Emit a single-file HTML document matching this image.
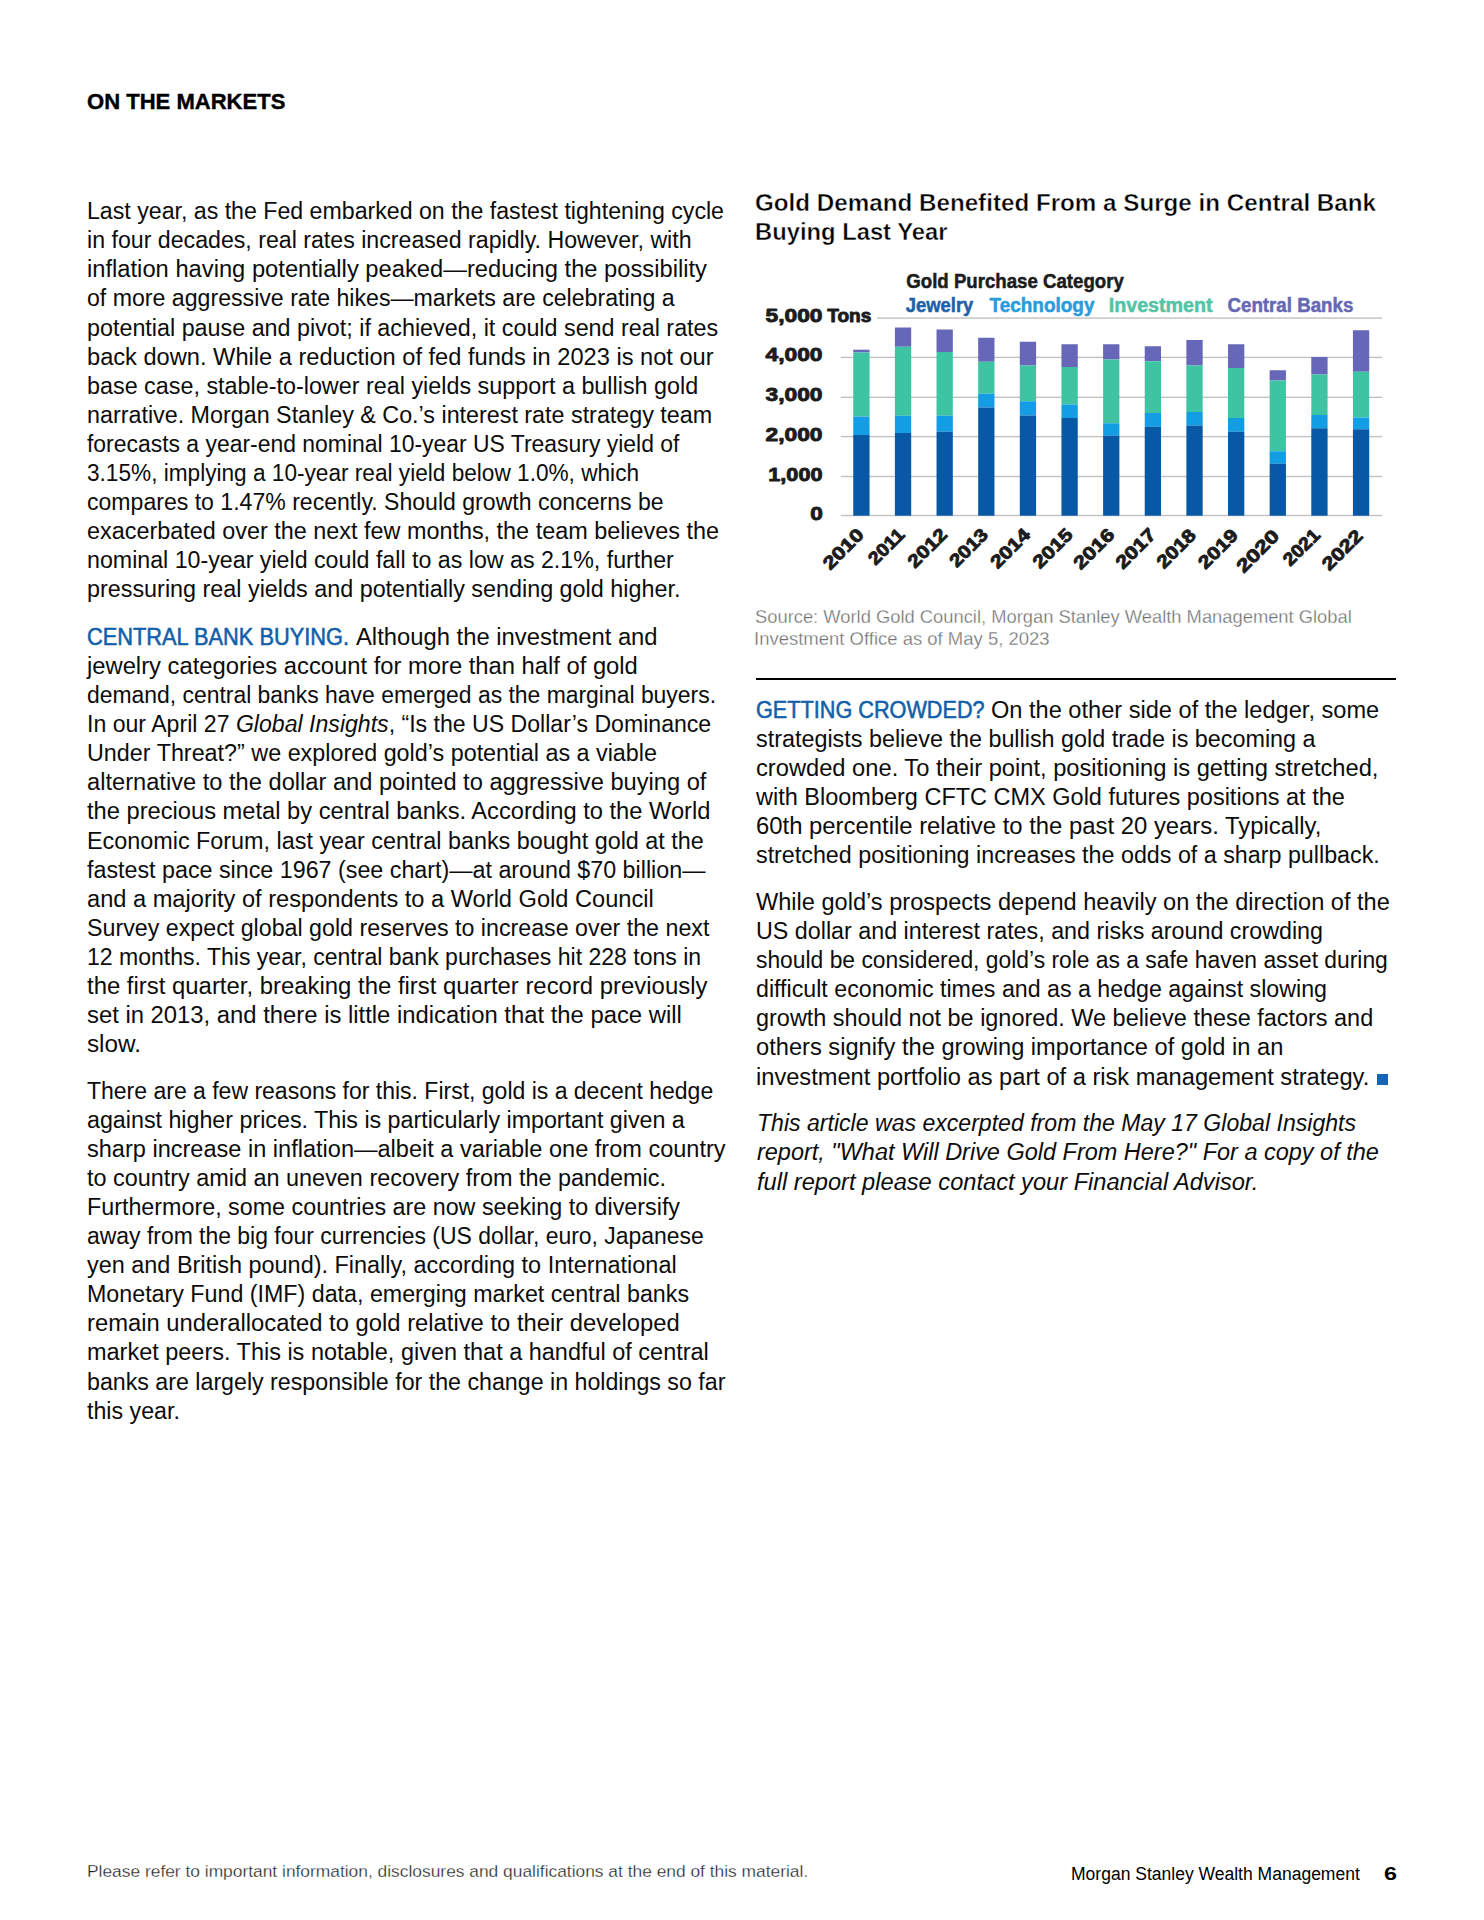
<!DOCTYPE html>
<html lang="en"><head><meta charset="utf-8"><title>On the Markets</title>
<style>
*{margin:0;padding:0;box-sizing:border-box}
h1,h2{font-size:inherit;font-weight:inherit}
html,body{width:1484px;height:1920px;background:#fff;overflow:hidden}
body{position:relative;font-family:"Liberation Sans",sans-serif;color:#111}
.l{position:absolute;white-space:nowrap;line-height:30px;height:30px;transform-origin:0 0;display:block}
.b{font-size:23px;color:#0c0c0c}
.it{font-style:italic}
.h{color:#1260aa;-webkit-text-stroke:0.55px #1260aa}
.hd{font-size:22.9px;font-weight:bold;color:#000;-webkit-text-stroke:0.4px #000}
.ct{font-size:24px;color:#000;font-weight:bold;-webkit-text-stroke:0.45px #fff}
.src{font-size:18.6px;color:#707070;-webkit-text-stroke:0.3px #fff}
.ft{font-size:17.2px;color:#1e1e1e;-webkit-text-stroke:0.28px #fff}
.fr{font-size:17.6px;color:#000}
.pg{font-size:18.4px;font-weight:bold;color:#000}
.rule{position:absolute;left:756px;top:678px;width:640px;height:2px;background:#000}
.sq{position:absolute;left:1377px;top:1074px;width:11px;height:11px;background:#1565b4}
#chart{position:absolute;left:742px;top:260px}
</style></head>
<body>
<header>
<h1><span class="l hd" id="l59" style="left:86.79px;top:86px;transform:scaleX(0.9630)">ON THE MARKETS</span>
</h1>
</header>
<main>
<section class="col">
<p>
<span class="l b" id="l0" style="left:87.20px;top:196px;transform:scaleX(1.0065)">Last year, as the Fed embarked on the fastest tightening cycle</span>
<span class="l b" id="l1" style="left:87.20px;top:225px;transform:scaleX(1.0069)">in four decades, real rates increased rapidly. However, with</span>
<span class="l b" id="l2" style="left:87.20px;top:254px;transform:scaleX(1.0317)">inflation having potentially peaked—reducing the possibility</span>
<span class="l b" id="l3" style="left:87.20px;top:283px;transform:scaleX(1.0058)">of more aggressive rate hikes—markets are celebrating a</span>
<span class="l b" id="l4" style="left:87.20px;top:313px;transform:scaleX(1.0137)">potential pause and pivot; if achieved, it could send real rates</span>
<span class="l b" id="l5" style="left:87.20px;top:342px;transform:scaleX(1.0274)">back down. While a reduction of fed funds in 2023 is not our</span>
<span class="l b" id="l6" style="left:87.20px;top:371px;transform:scaleX(1.0150)">base case, stable-to-lower real yields support a bullish gold</span>
<span class="l b" id="l7" style="left:87.20px;top:400px;transform:scaleX(1.0132)">narrative. Morgan Stanley &amp; Co.’s interest rate strategy team</span>
<span class="l b" id="l8" style="left:87.20px;top:429px;transform:scaleX(0.9965)">forecasts a year-end nominal 10-year US Treasury yield of</span>
<span class="l b" id="l9" style="left:87.20px;top:458px;transform:scaleX(0.9836)">3.15%, implying a 10-year real yield below 1.0%, which</span>
<span class="l b" id="l10" style="left:87.20px;top:487px;transform:scaleX(1.0030)">compares to 1.47% recently. Should growth concerns be</span>
<span class="l b" id="l11" style="left:87.20px;top:516px;transform:scaleX(1.0171)">exacerbated over the next few months, the team believes the</span>
<span class="l b" id="l12" style="left:87.20px;top:545px;transform:scaleX(1.0088)">nominal 10-year yield could fall to as low as 2.1%, further</span>
<span class="l b" id="l13" style="left:87.20px;top:574px;transform:scaleX(1.0155)">pressuring real yields and potentially sending gold higher.</span>
</p>
<p>
<span class="l b h" id="l14" style="left:87.19px;top:622px;transform:scaleX(0.9477)">CENTRAL BANK BUYING.</span>
<span class="l b" id="l15" style="left:355.60px;top:622px;transform:scaleX(1.0345)">Although the investment and</span>
<span class="l b" id="l16" style="left:87.20px;top:651px;transform:scaleX(1.0332)">jewelry categories account for more than half of gold</span>
<span class="l b" id="l17" style="left:87.20px;top:680px;transform:scaleX(0.9959)">demand, central banks have emerged as the marginal buyers.</span>
<span class="l b" id="l18" style="left:87.20px;top:709px;transform:scaleX(1.0040)">In our April 27 <i>Global Insights</i>, “Is the US Dollar’s Dominance</span>
<span class="l b" id="l19" style="left:87.20px;top:738px;transform:scaleX(1.0147)">Under Threat?” we explored gold’s potential as a viable</span>
<span class="l b" id="l20" style="left:87.20px;top:767px;transform:scaleX(1.0285)">alternative to the dollar and pointed to aggressive buying of</span>
<span class="l b" id="l21" style="left:87.20px;top:796px;transform:scaleX(1.0295)">the precious metal by central banks. According to the World</span>
<span class="l b" id="l22" style="left:87.20px;top:826px;transform:scaleX(1.0157)">Economic Forum, last year central banks bought gold at the</span>
<span class="l b" id="l23" style="left:87.20px;top:855px;transform:scaleX(1.0119)">fastest pace since 1967 (see chart)—at around $70 billion—</span>
<span class="l b" id="l24" style="left:87.20px;top:884px;transform:scaleX(1.0271)">and a majority of respondents to a World Gold Council</span>
<span class="l b" id="l25" style="left:87.20px;top:913px;transform:scaleX(1.0100)">Survey expect global gold reserves to increase over the next</span>
<span class="l b" id="l26" style="left:87.20px;top:942px;transform:scaleX(1.0015)">12 months. This year, central bank purchases hit 228 tons in</span>
<span class="l b" id="l27" style="left:87.20px;top:971px;transform:scaleX(1.0392)">the first quarter, breaking the first quarter record previously</span>
<span class="l b" id="l28" style="left:87.20px;top:1000px;transform:scaleX(1.0361)">set in 2013, and there is little indication that the pace will</span>
<span class="l b" id="l29" style="left:87.20px;top:1029px;transform:scaleX(1.0536)">slow.</span>
</p>
<p>
<span class="l b" id="l30" style="left:87.20px;top:1076px;transform:scaleX(0.9996)">There are a few reasons for this. First, gold is a decent hedge</span>
<span class="l b" id="l31" style="left:87.20px;top:1105px;transform:scaleX(1.0107)">against higher prices. This is particularly important given a</span>
<span class="l b" id="l32" style="left:87.20px;top:1134px;transform:scaleX(1.0236)">sharp increase in inflation—albeit a variable one from country</span>
<span class="l b" id="l33" style="left:87.20px;top:1163px;transform:scaleX(1.0178)">to country amid an uneven recovery from the pandemic.</span>
<span class="l b" id="l34" style="left:87.20px;top:1192px;transform:scaleX(1.0129)">Furthermore, some countries are now seeking to diversify</span>
<span class="l b" id="l35" style="left:87.20px;top:1221px;transform:scaleX(0.9968)">away from the big four currencies (US dollar, euro, Japanese</span>
<span class="l b" id="l36" style="left:87.20px;top:1250px;transform:scaleX(1.0188)">yen and British pound). Finally, according to International</span>
<span class="l b" id="l37" style="left:87.20px;top:1279px;transform:scaleX(1.0106)">Monetary Fund (IMF) data, emerging market central banks</span>
<span class="l b" id="l38" style="left:87.20px;top:1308px;transform:scaleX(1.0346)">remain underallocated to gold relative to their developed</span>
<span class="l b" id="l39" style="left:87.20px;top:1337px;transform:scaleX(1.0203)">market peers. This is notable, given that a handful of central</span>
<span class="l b" id="l40" style="left:87.20px;top:1367px;transform:scaleX(1.0087)">banks are largely responsible for the change in holdings so far</span>
<span class="l b" id="l41" style="left:87.20px;top:1396px;transform:scaleX(1.0087)">this year.</span>
</p>
</section>
<section class="col">
<figure>
<h2><span class="l ct" id="l60" style="left:755.00px;top:188px;transform:scaleX(1.0079)">Gold Demand Benefited From a Surge in Central Bank</span>
<span class="l ct" id="l61" style="left:754.96px;top:217px;transform:scaleX(0.9904)">Buying Last Year</span>
</h2>
<svg id="chart" width="690" height="330" viewBox="0 0 690 330" font-family="Liberation Sans, sans-serif" font-weight="bold" stroke-linejoin="round">
<rect x="98.8" y="254.80" width="541.2" height="1.4" fill="#c2c2c2"/>
<rect x="98.8" y="215.80" width="541.2" height="1.4" fill="#c2c2c2"/>
<rect x="98.8" y="175.90" width="541.2" height="1.4" fill="#c2c2c2"/>
<rect x="98.8" y="136.60" width="541.2" height="1.4" fill="#c2c2c2"/>
<rect x="98.8" y="96.70" width="541.2" height="1.4" fill="#c2c2c2"/>
<rect x="135.0" y="57.40" width="505.0" height="1.4" fill="#c2c2c2"/>
<rect x="111.25" y="89.70" width="16.3" height="2.80" fill="#6667b9"/>
<rect x="111.25" y="92.50" width="16.3" height="64.10" fill="#3ec4a3"/>
<rect x="111.25" y="156.60" width="16.3" height="18.40" fill="#139de4"/>
<rect x="111.25" y="175.00" width="16.3" height="80.70" fill="#0759a6"/>
<rect x="152.89" y="67.50" width="16.3" height="19.25" fill="#6667b9"/>
<rect x="152.89" y="86.75" width="16.3" height="69.00" fill="#3ec4a3"/>
<rect x="152.89" y="155.75" width="16.3" height="17.25" fill="#139de4"/>
<rect x="152.89" y="173.00" width="16.3" height="82.70" fill="#0759a6"/>
<rect x="194.53" y="69.50" width="16.3" height="22.50" fill="#6667b9"/>
<rect x="194.53" y="92.00" width="16.3" height="63.75" fill="#3ec4a3"/>
<rect x="194.53" y="155.75" width="16.3" height="16.00" fill="#139de4"/>
<rect x="194.53" y="171.75" width="16.3" height="83.95" fill="#0759a6"/>
<rect x="236.17" y="77.75" width="16.3" height="24.00" fill="#6667b9"/>
<rect x="236.17" y="101.75" width="16.3" height="32.00" fill="#3ec4a3"/>
<rect x="236.17" y="133.75" width="16.3" height="13.75" fill="#139de4"/>
<rect x="236.17" y="147.50" width="16.3" height="108.20" fill="#0759a6"/>
<rect x="277.81" y="81.75" width="16.3" height="23.75" fill="#6667b9"/>
<rect x="277.81" y="105.50" width="16.3" height="35.75" fill="#3ec4a3"/>
<rect x="277.81" y="141.25" width="16.3" height="14.25" fill="#139de4"/>
<rect x="277.81" y="155.50" width="16.3" height="100.20" fill="#0759a6"/>
<rect x="319.45" y="84.25" width="16.3" height="22.75" fill="#6667b9"/>
<rect x="319.45" y="107.00" width="16.3" height="37.50" fill="#3ec4a3"/>
<rect x="319.45" y="144.50" width="16.3" height="13.50" fill="#139de4"/>
<rect x="319.45" y="158.00" width="16.3" height="97.70" fill="#0759a6"/>
<rect x="361.09" y="84.25" width="16.3" height="15.25" fill="#6667b9"/>
<rect x="361.09" y="99.50" width="16.3" height="63.75" fill="#3ec4a3"/>
<rect x="361.09" y="163.25" width="16.3" height="12.50" fill="#139de4"/>
<rect x="361.09" y="175.75" width="16.3" height="79.95" fill="#0759a6"/>
<rect x="402.73" y="86.25" width="16.3" height="15.00" fill="#6667b9"/>
<rect x="402.73" y="101.25" width="16.3" height="51.75" fill="#3ec4a3"/>
<rect x="402.73" y="153.00" width="16.3" height="13.75" fill="#139de4"/>
<rect x="402.73" y="166.75" width="16.3" height="88.95" fill="#0759a6"/>
<rect x="444.37" y="80.00" width="16.3" height="25.50" fill="#6667b9"/>
<rect x="444.37" y="105.50" width="16.3" height="46.50" fill="#3ec4a3"/>
<rect x="444.37" y="152.00" width="16.3" height="13.50" fill="#139de4"/>
<rect x="444.37" y="165.50" width="16.3" height="90.20" fill="#0759a6"/>
<rect x="486.01" y="84.25" width="16.3" height="23.75" fill="#6667b9"/>
<rect x="486.01" y="108.00" width="16.3" height="50.00" fill="#3ec4a3"/>
<rect x="486.01" y="158.00" width="16.3" height="13.75" fill="#139de4"/>
<rect x="486.01" y="171.75" width="16.3" height="83.95" fill="#0759a6"/>
<rect x="527.65" y="110.25" width="16.3" height="10.25" fill="#6667b9"/>
<rect x="527.65" y="120.50" width="16.3" height="70.75" fill="#3ec4a3"/>
<rect x="527.65" y="191.25" width="16.3" height="12.50" fill="#139de4"/>
<rect x="527.65" y="203.75" width="16.3" height="51.95" fill="#0759a6"/>
<rect x="569.29" y="97.00" width="16.3" height="17.50" fill="#6667b9"/>
<rect x="569.29" y="114.50" width="16.3" height="40.50" fill="#3ec4a3"/>
<rect x="569.29" y="155.00" width="16.3" height="13.25" fill="#139de4"/>
<rect x="569.29" y="168.25" width="16.3" height="87.45" fill="#0759a6"/>
<rect x="610.93" y="70.25" width="16.3" height="41.50" fill="#6667b9"/>
<rect x="610.93" y="111.75" width="16.3" height="45.75" fill="#3ec4a3"/>
<rect x="610.93" y="157.50" width="16.3" height="11.75" fill="#139de4"/>
<rect x="610.93" y="169.25" width="16.3" height="86.45" fill="#0759a6"/>
<text x="164.30" y="28.40" font-size="19.8" fill="#1c1c1c" stroke="#1c1c1c" stroke-width="0.5" text-anchor="start" textLength="217.5" lengthAdjust="spacingAndGlyphs">Gold Purchase Category</text>
<text x="163.80" y="51.70" font-size="19.4" fill="#1d60a8" stroke="#1d60a8" stroke-width="0.5" text-anchor="start" textLength="67.5" lengthAdjust="spacingAndGlyphs">Jewelry</text>
<text x="247.50" y="51.70" font-size="19.4" fill="#2a9bdc" stroke="#2a9bdc" stroke-width="0.5" text-anchor="start" textLength="105.0" lengthAdjust="spacingAndGlyphs">Technology</text>
<text x="366.80" y="51.70" font-size="19.4" fill="#52c4a5" stroke="#52c4a5" stroke-width="0.5" text-anchor="start" textLength="103.7" lengthAdjust="spacingAndGlyphs">Investment</text>
<text x="485.50" y="51.70" font-size="19.4" fill="#6668b4" stroke="#6668b4" stroke-width="0.5" text-anchor="start" textLength="125.8" lengthAdjust="spacingAndGlyphs">Central Banks</text>
<text x="23.50" y="62.20" font-size="18.8" fill="#1c1c1c" stroke="#1c1c1c" stroke-width="0.9" text-anchor="start" textLength="57.0" lengthAdjust="spacingAndGlyphs">5,000</text>
<text x="85.20" y="62.20" font-size="18.8" fill="#1c1c1c" stroke="#1c1c1c" stroke-width="0.9" text-anchor="start" textLength="44.2" lengthAdjust="spacingAndGlyphs">Tons</text>
<text x="23.50" y="101.40" font-size="18.8" fill="#1c1c1c" stroke="#1c1c1c" stroke-width="0.9" text-anchor="start" textLength="57.0" lengthAdjust="spacingAndGlyphs">4,000</text>
<text x="23.50" y="141.30" font-size="18.8" fill="#1c1c1c" stroke="#1c1c1c" stroke-width="0.9" text-anchor="start" textLength="57.0" lengthAdjust="spacingAndGlyphs">3,000</text>
<text x="23.50" y="180.60" font-size="18.8" fill="#1c1c1c" stroke="#1c1c1c" stroke-width="0.9" text-anchor="start" textLength="57.0" lengthAdjust="spacingAndGlyphs">2,000</text>
<text x="26.30" y="220.50" font-size="18.8" fill="#1c1c1c" stroke="#1c1c1c" stroke-width="0.9" text-anchor="start" textLength="54.2" lengthAdjust="spacingAndGlyphs">1,000</text>
<text x="68.30" y="259.80" font-size="18.8" fill="#1c1c1c" stroke="#1c1c1c" stroke-width="0.9" text-anchor="start" textLength="12.6" lengthAdjust="spacingAndGlyphs">0</text>
<text transform="translate(123.00,275.80) rotate(-45)" font-size="18.2" fill="#1c1c1c" stroke="#1c1c1c" stroke-width="0.9" text-anchor="end" textLength="49.3" lengthAdjust="spacingAndGlyphs">2010</text>
<text transform="translate(163.74,275.80) rotate(-45)" font-size="18.2" fill="#1c1c1c" stroke="#1c1c1c" stroke-width="0.9" text-anchor="end" textLength="42.7" lengthAdjust="spacingAndGlyphs">2011</text>
<text transform="translate(206.18,275.80) rotate(-45)" font-size="18.2" fill="#1c1c1c" stroke="#1c1c1c" stroke-width="0.9" text-anchor="end" textLength="46.8" lengthAdjust="spacingAndGlyphs">2012</text>
<text transform="translate(247.22,275.80) rotate(-45)" font-size="18.2" fill="#1c1c1c" stroke="#1c1c1c" stroke-width="0.9" text-anchor="end" textLength="46.0" lengthAdjust="spacingAndGlyphs">2013</text>
<text transform="translate(289.46,275.80) rotate(-45)" font-size="18.2" fill="#1c1c1c" stroke="#1c1c1c" stroke-width="0.9" text-anchor="end" textLength="47.8" lengthAdjust="spacingAndGlyphs">2014</text>
<text transform="translate(331.90,275.80) rotate(-45)" font-size="18.2" fill="#1c1c1c" stroke="#1c1c1c" stroke-width="0.9" text-anchor="end" textLength="47.8" lengthAdjust="spacingAndGlyphs">2015</text>
<text transform="translate(373.64,275.80) rotate(-45)" font-size="18.2" fill="#1c1c1c" stroke="#1c1c1c" stroke-width="0.9" text-anchor="end" textLength="49.2" lengthAdjust="spacingAndGlyphs">2016</text>
<text transform="translate(415.08,275.80) rotate(-45)" font-size="18.2" fill="#1c1c1c" stroke="#1c1c1c" stroke-width="0.9" text-anchor="end" textLength="48.3" lengthAdjust="spacingAndGlyphs">2017</text>
<text transform="translate(455.12,276.40) rotate(-45)" font-size="18.2" fill="#1c1c1c" stroke="#1c1c1c" stroke-width="0.9" text-anchor="end" textLength="46.8" lengthAdjust="spacingAndGlyphs">2018</text>
<text transform="translate(497.26,276.40) rotate(-45)" font-size="18.2" fill="#1c1c1c" stroke="#1c1c1c" stroke-width="0.9" text-anchor="end" textLength="47.6" lengthAdjust="spacingAndGlyphs">2019</text>
<text transform="translate(538.40,277.20) rotate(-45)" font-size="18.2" fill="#1c1c1c" stroke="#1c1c1c" stroke-width="0.9" text-anchor="end" textLength="51.8" lengthAdjust="spacingAndGlyphs">2020</text>
<text transform="translate(579.24,276.20) rotate(-45)" font-size="18.2" fill="#1c1c1c" stroke="#1c1c1c" stroke-width="0.9" text-anchor="end" textLength="43.7" lengthAdjust="spacingAndGlyphs">2021</text>
<text transform="translate(621.88,277.00) rotate(-45)" font-size="18.2" fill="#1c1c1c" stroke="#1c1c1c" stroke-width="0.9" text-anchor="end" textLength="48.9" lengthAdjust="spacingAndGlyphs">2022</text>
</svg>
<figcaption><span class="l src" id="l62" style="left:755.20px;top:602px;transform:scaleX(0.9865)">Source: World Gold Council, Morgan Stanley Wealth Management Global</span>
<span class="l src" id="l63" style="left:754.18px;top:624px;transform:scaleX(0.9943)">Investment Office as of May 5, 2023</span>
</figcaption>
</figure>
<div class="rule"></div>
<p>
<span class="l b h" id="l42" style="left:755.60px;top:695px;transform:scaleX(0.9416)">GETTING CROWDED?</span>
<span class="l b" id="l43" style="left:991.39px;top:695px;transform:scaleX(1.0257)">On the other side of the ledger, some</span>
<span class="l b" id="l44" style="left:755.80px;top:724px;transform:scaleX(1.0155)">strategists believe the bullish gold trade is becoming a</span>
<span class="l b" id="l45" style="left:755.80px;top:753px;transform:scaleX(1.0299)">crowded one. To their point, positioning is getting stretched,</span>
<span class="l b" id="l46" style="left:755.80px;top:782px;transform:scaleX(1.0213)">with Bloomberg CFTC CMX Gold futures positions at the</span>
<span class="l b" id="l47" style="left:755.80px;top:811px;transform:scaleX(1.0373)">60th percentile relative to the past 20 years. Typically,</span>
<span class="l b" id="l48" style="left:755.80px;top:840px;transform:scaleX(1.0122)">stretched positioning increases the odds of a sharp pullback.</span>
</p>
<p>
<span class="l b" id="l49" style="left:755.80px;top:887px;transform:scaleX(1.0249)">While gold’s prospects depend heavily on the direction of the</span>
<span class="l b" id="l50" style="left:755.80px;top:916px;transform:scaleX(1.0126)">US dollar and interest rates, and risks around crowding</span>
<span class="l b" id="l51" style="left:755.80px;top:945px;transform:scaleX(0.9929)">should be considered, gold’s role as a safe haven asset during</span>
<span class="l b" id="l52" style="left:755.80px;top:974px;transform:scaleX(1.0089)">difficult economic times and as a hedge against slowing</span>
<span class="l b" id="l53" style="left:755.80px;top:1003px;transform:scaleX(1.0191)">growth should not be ignored. We believe these factors and</span>
<span class="l b" id="l54" style="left:755.80px;top:1032px;transform:scaleX(1.0287)">others signify the growing importance of gold in an</span>
<span class="l b" id="l55" style="left:755.80px;top:1062px;transform:scaleX(1.0279)">investment portfolio as part of a risk management strategy.</span>
<span class="sq"></span>
</p>
<p>
<span class="l b it" id="l56" style="left:756.80px;top:1108px;transform:scaleX(1.0034)">This article was excerpted from the May 17 Global Insights</span>
<span class="l b it" id="l57" style="left:756.80px;top:1137px;transform:scaleX(1.0207)">report, "What Will Drive Gold From Here?" For a copy of the</span>
<span class="l b it" id="l58" style="left:756.80px;top:1167px;transform:scaleX(1.0277)">full report please contact your Financial Advisor.</span>
</p>
</section>
</main>
<footer>
<span class="l ft" id="l64" style="left:86.80px;top:1856px;transform:scaleX(1.0106)">Please refer to important information, disclosures and qualifications at the end of this material.</span>
<span class="l fr" id="l65" style="left:1071.40px;top:1859px;transform:scaleX(0.9954)">Morgan Stanley Wealth Management</span>
<span class="l pg" id="l66" style="left:1384.23px;top:1859px;transform:scaleX(1.2665)">6</span>
</footer>
</body></html>
